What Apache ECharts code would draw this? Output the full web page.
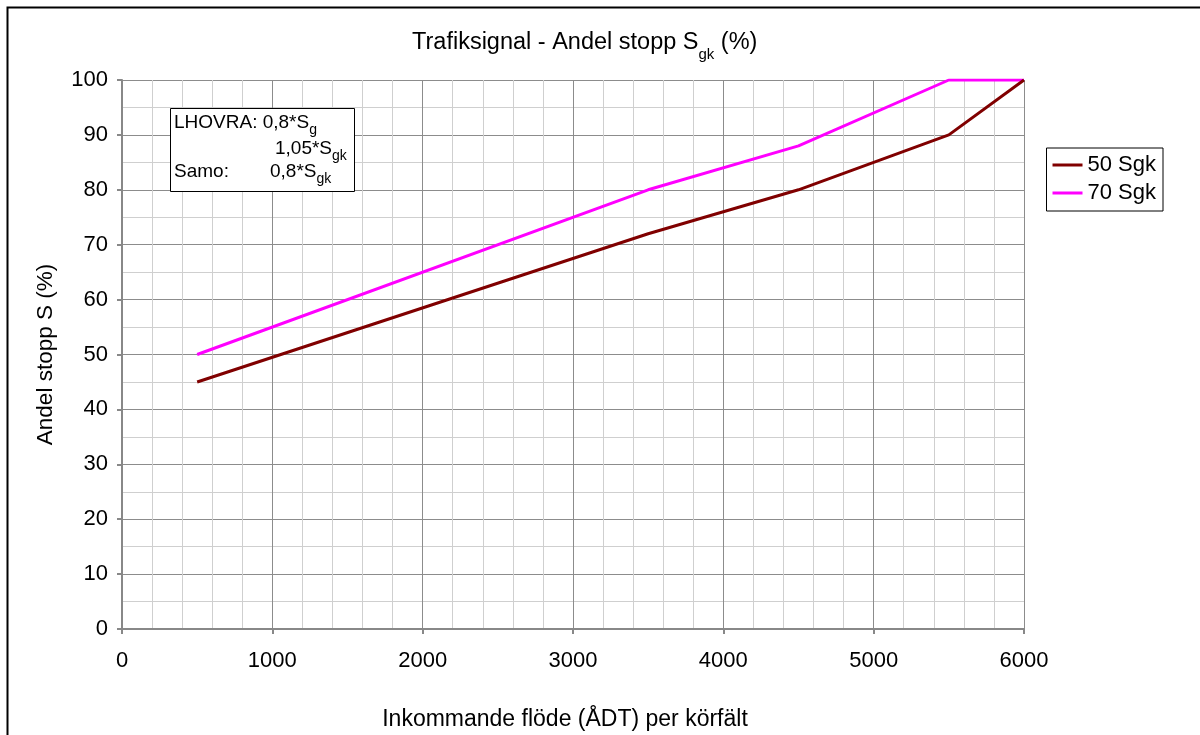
<!DOCTYPE html>
<html><head><meta charset="utf-8">
<script src="https://cdn.jsdelivr.net/npm/echarts@6/dist/echarts.min.js"></script>
<style>html,body{margin:0;padding:0;background:#fff}#c{width:1200px;height:735px}</style>
</head><body><div id="c"></div>
<script>
var xVals50 = [500, 3500, 4500, 5500, 6000];
var yVals50 = [45, 72, 80, 90, 100];
var xVals70 = [500, 3500, 4500, 5500, 6000];
var yVals70 = [50, 80, 88, 100, 100];
var seriesNames = ['50 Sgk', '70 Sgk'];
var FONT = 'Liberation Sans, Arial, sans-serif';

function pairs(xs, ys) { return xs.map(function (x, i) { return [x, ys[i]]; }); }

var annMain = { fontSize: 19, fontFamily: FONT, fill: '#000', color: '#000', lineHeight: 24, verticalAlign: 'bottom', padding: [0, 0, 3, 0] };
var annSub = { fontSize: 14, fontFamily: FONT, fill: '#000', color: '#000', lineHeight: 24, verticalAlign: 'bottom', padding: [0, 0, -2, 0] };

var chart = echarts.init(document.getElementById('c'));
chart.setOption({
  animation: false,
  backgroundColor: '#fff',
  textStyle: { fontFamily: FONT },
  title: {
    text: '{a|Trafiksignal - Andel stopp S}{s|gk}{a| (%)}',
    left: 407, top: 24,
    textStyle: {
      rich: {
        a: { fontSize: 23.5, fontWeight: 'normal', fontFamily: FONT, color: '#000', lineHeight: 30, verticalAlign: 'bottom', padding: [0, 0, 4, 0] },
        s: { fontSize: 15, fontWeight: 'normal', fontFamily: FONT, color: '#000', lineHeight: 30, verticalAlign: 'bottom', padding: [0, 0, -3, 0] }
      }
    }
  },
  legend: {
    orient: 'vertical', right: 37, top: 148,
    itemWidth: 30, itemHeight: 3, itemGap: 6,
    padding: [6, 7, 7, 6],
    borderColor: '#000', borderWidth: 1,
    icon: 'rect',
    textStyle: { fontSize: 22, fontFamily: FONT, color: '#000' },
    data: seriesNames
  },
  grid: { left: 122, right: 176, top: 80, bottom: 106, outerBoundsMode: 'none' },
  xAxis: {
    type: 'value', min: 0, max: 6000, interval: 1000,
    name: 'Inkommande flöde (ÅDT) per körfält',
    nameLocation: 'middle', nameGap: 79,
    nameTextStyle: { fontSize: 23, fontFamily: FONT, color: '#000', padding: [0, 16, 0, 0] },
    axisLine: { show: true, onZero: false, lineStyle: { color: '#888', width: 2 } },
    axisTick: { show: true, length: 5, lineStyle: { color: '#888', width: 2 } },
    axisLabel: { fontSize: 22, fontFamily: FONT, color: '#000', margin: 21, formatter: function (v) { return String(v); } },
    splitLine: { show: true, lineStyle: { color: '#8c8c8c', width: 1 } },
    minorTick: { show: false, splitNumber: 5 },
    minorSplitLine: { show: true, lineStyle: { color: '#cfcfcf', width: 1 } }
  },
  yAxis: {
    type: 'value', min: 0, max: 100, interval: 10,
    name: 'Andel stopp S (%)',
    nameLocation: 'middle', nameGap: 65, nameRotate: 90,
    nameTextStyle: { fontSize: 22.5, fontFamily: FONT, color: '#000' },
    axisLine: { show: true, onZero: false, lineStyle: { color: '#888', width: 2 } },
    axisTick: { show: true, length: 5, lineStyle: { color: '#888', width: 2 } },
    axisLabel: { fontSize: 22, fontFamily: FONT, color: '#000', margin: 14 },
    splitLine: { show: true, lineStyle: { color: '#8c8c8c', width: 1 } },
    minorTick: { show: false, splitNumber: 2 },
    minorSplitLine: { show: true, lineStyle: { color: '#cfcfcf', width: 1 } }
  },
  series: [
    { name: seriesNames[0], type: 'line', data: pairs(xVals50, yVals50), showSymbol: false, symbol: 'none',
      lineStyle: { color: '#800000', width: 3 }, itemStyle: { color: '#800000' }, z: 3 },
    { name: seriesNames[1], type: 'line', data: pairs(xVals70, yVals70), showSymbol: false, symbol: 'none',
      lineStyle: { color: '#ff00ff', width: 3 }, itemStyle: { color: '#ff00ff' }, z: 2 }
  ],
  graphic: [
    { type: 'rect', shape: { x: 7.5, y: 7.5, width: 1400, height: 900 }, style: { fill: 'none', stroke: '#000', lineWidth: 2 }, silent: true, z: 0 },
    { type: 'rect', shape: { x: 170.5, y: 108.5, width: 184, height: 83 }, style: { fill: '#fff', stroke: '#000', lineWidth: 1 }, z: 10 },
    { type: 'text', left: 174, top: 113, z: 11, style: { text: '{a|LHOVRA: 0,8*S}{s|g}', rich: { a: annMain, s: annSub } } },
    { type: 'text', left: 275, top: 139, z: 11, style: { text: '{a|1,05*S}{s|gk}', rich: { a: annMain, s: annSub } } },
    { type: 'text', left: 174, top: 162, z: 11, style: { text: '{a|Samo:}', rich: { a: annMain } } },
    { type: 'text', left: 270, top: 162, z: 11, style: { text: '{a|0,8*S}{s|gk}', rich: { a: annMain, s: annSub } } }
  ]
});
</script></body></html>
